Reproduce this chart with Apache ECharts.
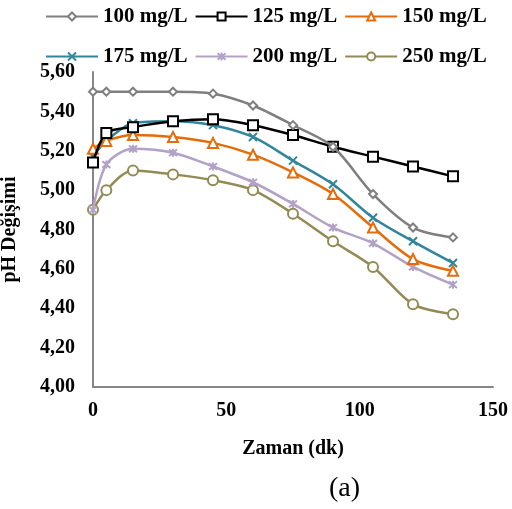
<!DOCTYPE html>
<html>
<head>
<meta charset="utf-8">
<script src="https://cdn.jsdelivr.net/npm/echarts@6/dist/echarts.min.js"></script>
<style>
  html, body { margin: 0; padding: 0; background: #fff; }
  #chart { width: 512px; height: 509px; }
</style>
</head>
<body>
<div id="chart"></div>
<script>
// zaman (dk)
const times = [0, 5, 15, 30, 45, 60, 75, 90, 105, 120, 135]

// pH değerleri, her konsantrasyon için
const ph100 = [5.50, 5.50, 5.50, 5.50, 5.49, 5.43, 5.33, 5.22, 4.98, 4.81, 4.76]
const ph125 = [5.14, 5.29, 5.32, 5.35, 5.36, 5.33, 5.28, 5.22, 5.17, 5.12, 5.07]
const ph150 = [5.21, 5.25, 5.28, 5.27, 5.24, 5.18, 5.09, 4.98, 4.81, 4.65, 4.59]
const ph175 = [5.17, 5.25, 5.34, 5.35, 5.33, 5.27, 5.15, 5.03, 4.86, 4.74, 4.63]
const ph200 = [4.90, 5.13, 5.21, 5.19, 5.12, 5.04, 4.93, 4.81, 4.73, 4.61, 4.52]
const ph250 = [4.90, 5.00, 5.10, 5.08, 5.05, 5.00, 4.88, 4.74, 4.61, 4.42, 4.37]

const seriesNames = ['100 mg/L', '125 mg/L', '150 mg/L', '175 mg/L', '200 mg/L', '250 mg/L']
const yTicks = { min: 4.0, max: 5.6, interval: 0.2 }
const xTicks = { min: 0, max: 150, interval: 50 }

const font = 'Liberation Serif'

// Excel tarzı x ve yıldız işaretleri
const crossPath = 'path://M0,0L10,10M10,0L0,10'
const starPath = 'path://M0,0L10,10M10,0L0,10M5,-1L5,11'

const styles = [
  { color: '#7f7f7f', symbol: 'emptyDiamond', size: 8, bw: 2 },
  { color: '#000000', symbol: 'emptyRect', size: 10, bw: 2 },
  { color: '#e46c0a', symbol: 'emptyTriangle', size: 10, bw: 2 },
  { color: '#31859c', symbol: crossPath, size: 8, bw: 2 },
  { color: '#b3a2c7', symbol: starPath, size: 8, bw: 2 },
  { color: '#948a54', symbol: 'emptyCircle', size: 10, bw: 2 }
]

const allData = [ph100, ph125, ph150, ph175, ph200, ph250]

const chart = echarts.init(document.getElementById('chart'))

const legendText = { fontFamily: font, fontWeight: 'bold', fontSize: 21, color: '#000' }

const option = {
  animation: false,
  legend: [
    {
      data: seriesNames.slice(0, 3),
      left: 40,
      top: 1,
      itemWidth: 52,
      itemHeight: 10,
      itemGap: 7,
      textStyle: legendText
    },
    {
      data: seriesNames.slice(3),
      left: 40,
      top: 41,
      itemWidth: 52,
      itemHeight: 10,
      itemGap: 7,
      textStyle: legendText
    }
  ],
  grid: {
    left: 93,
    right: 19,
    top: 72,
    bottom: 122,
    outerBoundsMode: 'none'
  },
  xAxis: {
    type: 'value',
    min: xTicks.min,
    max: xTicks.max,
    interval: xTicks.interval,
    name: 'Zaman (dk)',
    nameLocation: 'middle',
    nameGap: 52,
    nameTextStyle: { fontFamily: font, fontWeight: 'bold', fontSize: 20, color: '#000' },
    splitLine: { show: false },
    axisTick: { show: false },
    axisLine: { lineStyle: { color: '#868686', width: 2 } },
    axisLabel: { fontFamily: font, fontWeight: 'bold', fontSize: 20, color: '#000', margin: 14 }
  },
  yAxis: {
    type: 'value',
    min: yTicks.min,
    max: yTicks.max,
    interval: yTicks.interval,
    name: 'pH Değişimi',
    nameLocation: 'middle',
    nameGap: 73,
    nameTextStyle: { fontFamily: font, fontWeight: 'bold', fontSize: 20, color: '#000' },
    splitLine: { show: false },
    axisTick: { show: false },
    axisLine: { show: true, lineStyle: { color: '#868686', width: 2 } },
    axisLabel: {
      fontFamily: font,
      fontWeight: 'bold',
      fontSize: 20,
      color: '#000',
      margin: 18,
      formatter: v => v.toFixed(2).replace('.', ',')
    }
  },
  graphic: [
    {
      type: 'text',
      left: 329,
      top: 475,
      style: { text: '(a)', font: '28px "Liberation Serif"', fill: '#000' }
    }
  ],
  series: seriesNames.map((name, i) => ({
    name: name,
    type: 'line',
    data: times.map((t, j) => [t, allData[i][j]]),
    smooth: 0.3,
    symbol: styles[i].symbol,
    symbolSize: styles[i].size,
    showAllSymbol: true,
    lineStyle: { color: styles[i].color, width: 2.5 },
    itemStyle: {
      color: styles[i].color,
      borderColor: styles[i].color,
      borderWidth: styles[i].bw
    },
    z: 10 - i
  }))
}

chart.setOption(option)
</script>
</body>
</html>
